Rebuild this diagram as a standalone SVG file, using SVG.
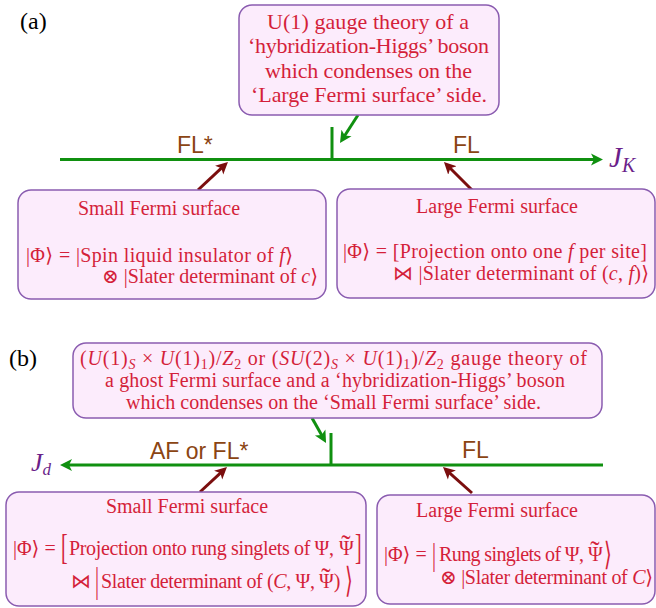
<svg xmlns="http://www.w3.org/2000/svg" width="656" height="608" viewBox="0 0 656 608">
<style>
.box{fill:#fcecfc;stroke:#8a5cb0;stroke-width:1.5}
.t{font-family:"Liberation Serif","DejaVu Serif",serif;fill:#d41f3a;font-size:20px}
.tb{font-size:22px}
.i{font-style:italic}
.s{font-size:14px}
.tl{font-size:28px}
.lab{font-family:"Liberation Serif","DejaVu Serif",serif;font-size:24px;fill:#000}
.ph{font-family:"Liberation Sans",Arial,sans-serif;font-size:23px;fill:#8b4513}
.j{font-family:"Liberation Serif","DejaVu Serif",serif;font-style:italic;fill:#6b1f8a}
.g{stroke:#109010;stroke-width:3;fill:none}
.r{stroke:#7b0e0e;stroke-width:3;fill:none}
</style>
<defs>
<marker id="ahG" markerUnits="userSpaceOnUse" markerWidth="14" markerHeight="14" refX="7" refY="7" orient="auto"><path d="M12,7 L0,1 L3,7 L0,13 Z" fill="#109010"/></marker>
<marker id="ahR" markerUnits="userSpaceOnUse" markerWidth="14" markerHeight="14" refX="7" refY="7" orient="auto"><path d="M12,7 L0,1 L3,7 L0,13 Z" fill="#7b0e0e"/></marker>
</defs>

<text class="lab" x="20" y="29">(a)</text>
<text class="lab" x="9" y="366">(b)</text>

<g id="connectors">
<line class="g" x1="60" y1="159.5" x2="598" y2="159.5" marker-end="url(#ahG)"/>
<line class="g" x1="332" y1="127" x2="332" y2="159.5"/>
<line class="g" x1="358" y1="115" x2="342.7" y2="138.8" marker-end="url(#ahG)"/>
<line class="r" x1="198" y1="190" x2="224.3" y2="165.4" marker-end="url(#ahR)"/>
<line class="r" x1="472" y1="190" x2="447.5" y2="165.5" marker-end="url(#ahR)"/>
<line class="g" x1="603" y1="465" x2="65" y2="465" marker-end="url(#ahG)"/>
<line class="g" x1="331" y1="433" x2="331" y2="465"/>
<line class="g" x1="312" y1="418" x2="323.6" y2="438.6" marker-end="url(#ahG)"/>
<line class="r" x1="200" y1="492" x2="223.3" y2="470.4" marker-end="url(#ahR)"/>
<line class="r" x1="472" y1="493" x2="446.7" y2="470.3" marker-end="url(#ahR)"/>
</g>

<g id="axis-labels">
<text class="ph" x="177" y="153">FL*</text>
<text class="ph" x="453" y="153">FL</text>
<text class="ph" x="150" y="459">AF or FL*</text>
<text class="ph" x="462" y="458">FL</text>
<text class="j" x="609" y="167" font-size="29">J<tspan font-size="20" dy="5">K</tspan></text>
<text class="j" x="31" y="471" font-size="26">J<tspan font-size="17" dy="4">d</tspan></text>
</g>

<g id="box-a-top">
<rect class="box" x="239" y="5" width="260" height="110" rx="13"/>
<text class="t tb" x="267" y="29" textLength="202">U(1) gauge theory of a</text>
<text class="t tb" x="248" y="53" textLength="241">‘hybridization-Higgs’ boson</text>
<text class="t tb" x="265" y="78" textLength="207">which condenses on the</text>
<text class="t tb" x="251" y="102" textLength="236">‘Large Fermi surface’ side.</text>
</g>

<g id="box-a-left">
<rect class="box" x="18" y="190" width="308" height="109" rx="13"/>
<text class="t" x="159" y="215" text-anchor="middle">Small Fermi surface</text>
<text class="t" x="26" y="262" textLength="267">|Φ⟩ = |Spin liquid insulator of <tspan class="i">f</tspan>⟩</text>
<text class="t" x="102" y="283" textLength="216">⊗ |Slater determinant of <tspan class="i">c</tspan>⟩</text>
</g>

<g id="box-a-right">
<rect class="box" x="337" y="189" width="318" height="109" rx="13"/>
<text class="t" x="497" y="213" text-anchor="middle">Large Fermi surface</text>
<text class="t" x="343" y="258" textLength="304">|Φ⟩ = [Projection onto one <tspan class="i">f</tspan> per site]</text>
<text class="t" x="393" y="280" textLength="256">⋈ |Slater determinant of (<tspan class="i">c</tspan>, <tspan class="i">f</tspan>)⟩</text>
</g>

<g id="box-b-top">
<rect class="box" x="73" y="343" width="529" height="75" rx="13"/>
<text class="t" x="80" y="365" textLength="507">(<tspan class="i">U</tspan>(1)<tspan class="s i" dy="4">S</tspan><tspan dy="-4"> × </tspan><tspan class="i">U</tspan>(1)<tspan class="s" dy="4">1</tspan><tspan dy="-4">)/</tspan><tspan class="i">Z</tspan><tspan class="s" dy="4">2</tspan><tspan dy="-4"> or (</tspan><tspan class="i">SU</tspan>(2)<tspan class="s i" dy="4">S</tspan><tspan dy="-4"> × </tspan><tspan class="i">U</tspan>(1)<tspan class="s" dy="4">1</tspan><tspan dy="-4">)/</tspan><tspan class="i">Z</tspan><tspan class="s" dy="4">2</tspan><tspan dy="-4"> gauge theory of</tspan></text>
<text class="t" x="105" y="387" textLength="460">a ghost Fermi surface and a ‘hybridization-Higgs’ boson</text>
<text class="t" x="126" y="409" textLength="415">which condenses on the ‘Small Fermi surface’ side.</text>
</g>

<g id="box-b-left">
<rect class="box" x="6" y="492" width="360" height="114" rx="13"/>
<text class="t" x="187" y="513" text-anchor="middle">Small Fermi surface</text>
<text class="t" x="13" y="555">|Φ⟩ =</text>
<text class="t" transform="translate(61,559) scale(1,1.75)">[</text>
<text class="t" x="69" y="555" textLength="265">Projection onto rung singlets of Ψ,</text>
<text class="t" x="339" y="555">Ψ<tspan class="tl" dx="-12.5" dy="-1">˜</tspan></text>
<text class="t" transform="translate(355,559) scale(1,1.75)">]</text>
<text class="t" x="71" y="588">⋈</text>
<text class="t" transform="translate(95,592) scale(1,1.75)">|</text>
<text class="t" x="101" y="588" textLength="214">Slater determinant of (<tspan class="i">C</tspan>, Ψ,</text>
<text class="t" x="319" y="588">Ψ<tspan class="tl" dx="-12.5" dy="-1">˜</tspan><tspan dx="3.2" dy="1">)</tspan></text>
<text class="t" transform="translate(345,592) scale(1,1.75)">⟩</text>
</g>

<g id="box-b-right">
<rect class="box" x="377" y="495" width="278" height="109" rx="13"/>
<text class="t" x="497" y="517" text-anchor="middle">Large Fermi surface</text>
<text class="t" x="384" y="561">|Φ⟩ =</text>
<text class="t" transform="translate(432,565) scale(1,1.6)">|</text>
<text class="t" x="439" y="561" textLength="145">Rung singlets of Ψ,</text>
<text class="t" x="588" y="561">Ψ<tspan class="tl" dx="-12.5" dy="-1">˜</tspan></text>
<text class="t" transform="translate(604,565) scale(1,1.6)">⟩</text>
<text class="t" x="440" y="584" textLength="213">⊗ |Slater determinant of <tspan class="i">C</tspan>⟩</text>
</g>
</svg>
